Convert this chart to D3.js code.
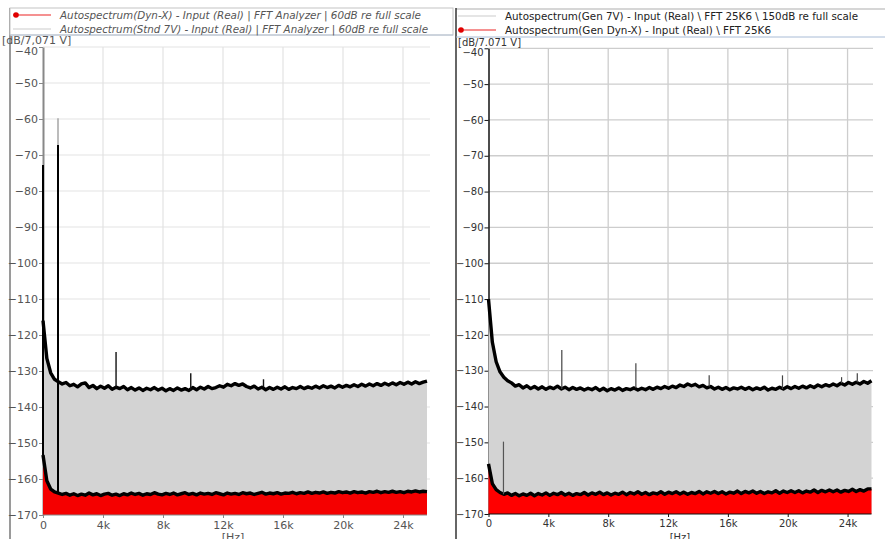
<!DOCTYPE html>
<html>
<head>
<meta charset="utf-8">
<script src="https://cdn.jsdelivr.net/npm/d3@7"></script>
<style>
  body { margin: 0; background: #fff; }
  text { font-family: "DejaVu Sans", Verdana, sans-serif; }
</style>
</head>
<body>
<svg width="885" height="539"></svg>
<script>
// frequency grid, one value every 256 Hz from 0 to 25.6 kHz
var binHz = 256;
var freqs = d3.range(101).map(function (i) { return i * binHz; });

var dbTicks = [-40, -50, -60, -70, -80, -90, -100, -110, -120, -130, -140, -150, -160, -170];
var hzTicks = [0, 4000, 8000, 12000, 16000, 20000, 24000];
var hzLabels = ['0', '4k', '8k', '12k', '16k', '20k', '24k'];

// left panel: Stnd 7V (grey) and Dyn-X (red)
var stnd7v = [
  -116, -126.5, -130.5, -132.3, -133.0, -133.6, -133.2, -134.1, -133.7, -134.4,
  -133.6, -133.3, -134.6, -134.0, -134.9, -134.2, -134.8, -134.1, -135.1, -134.5,
  -134.9, -134.3, -135.2, -134.6, -135.3, -134.7, -135.4, -134.8, -135.2, -134.6,
  -135.3, -134.8, -135.5, -134.9, -135.4, -134.7, -135.3, -134.9, -135.4, -134.6,
  -135.2, -134.5, -135.0, -134.3, -134.9, -134.6, -134.1, -134.5, -133.7, -134.1,
  -133.5, -134.0, -133.6, -134.3, -134.7, -134.2, -135.0, -134.5, -135.2, -134.6,
  -135.1, -134.5, -135.0, -134.4, -135.1, -134.6, -134.9, -134.3, -134.9, -134.4,
  -134.8, -134.2, -134.7, -134.1, -134.6, -134.2, -134.7, -134.0, -134.5, -134.0,
  -134.4, -133.8, -134.3, -133.7, -134.2, -133.6, -134.1, -133.5, -134.0, -133.4,
  -133.9, -133.3, -133.8, -133.2, -133.7, -133.1, -133.6, -133.0, -133.5, -133.1,
  -132.8
];
var stnd7vPeaks = [[1000, -59.8], [4870, -124.7], [9850, -130.6], [14700, -132.3]];

var dynX = [
  -153.3, -160.5, -162.8, -163.6, -163.9, -164.3, -164.0, -164.5, -164.1, -164.6,
  -164.2, -164.5, -163.9, -164.4, -164.1, -164.6, -164.2, -164.0, -164.5, -164.2,
  -164.6, -164.1, -164.4, -163.9, -164.3, -164.0, -164.5, -164.1, -164.3, -163.8,
  -164.2, -164.4, -164.0, -164.3, -163.9, -164.4, -164.1, -163.8, -164.3, -164.0,
  -164.4, -163.9, -164.2, -164.0, -164.3, -163.8, -164.1, -164.4, -163.9, -164.2,
  -164.0, -164.3, -163.8, -164.1, -163.9, -164.3, -164.0, -163.7, -164.2, -163.9,
  -164.1, -163.8, -164.2, -163.9, -164.0, -163.7, -164.1, -163.8, -164.0, -163.6,
  -164.0, -163.7, -163.9, -163.6, -164.0, -163.7, -163.9, -163.5, -163.8, -163.6,
  -163.9, -163.5, -163.8, -163.6, -163.9, -163.5, -163.7, -163.4, -163.8, -163.5,
  -163.7, -163.4, -163.7, -163.5, -163.8, -163.4, -163.6, -163.3, -163.6, -163.4,
  -163.5
];
var dynXPeaks = [[0, -72.8], [1000, -67.2]];

// right panel: Gen 7V (grey) and Gen Dyn-X (red)
var gen7v = [
  -110, -122, -127.5, -130.3, -131.8, -132.8, -133.4, -134.3, -133.9, -134.8,
  -134.2, -135.0, -134.4, -135.1, -134.5, -135.2, -134.6, -135.0, -134.3, -135.1,
  -134.6, -135.3, -134.7, -135.2, -134.8, -135.4, -134.9, -135.3, -134.7, -135.5,
  -134.9, -135.6, -135.0, -135.4, -134.8, -135.5, -135.0, -135.3, -134.8, -135.4,
  -134.9, -135.3, -134.7, -135.2, -134.6, -135.0, -134.4, -134.9, -134.3, -134.7,
  -134.0, -134.4, -133.7, -134.2, -133.8, -134.5, -134.1, -134.8, -134.4, -135.1,
  -134.6, -135.2, -134.7, -135.3, -134.8, -135.1, -134.6, -135.2, -134.7, -135.3,
  -134.8, -135.2, -134.6, -135.4, -134.9, -135.2, -134.6, -135.1, -134.5, -135.0,
  -134.4, -134.9, -134.3, -134.8, -134.2, -134.7, -134.0, -134.5, -133.9, -134.3,
  -133.7, -134.2, -133.5, -134.0, -133.3, -133.8, -133.2, -133.7, -133.0, -133.5,
  -132.8
];
var gen7vPeaks = [[4900, -124.2], [9850, -127.9], [14750, -131.3], [19650, -131.3], [23600, -131.8], [24650, -130.7]];

var genDynX = [
  -156, -161.5, -163.2, -164.0, -164.5, -164.1, -164.8, -164.3, -164.9, -164.4,
  -164.8, -164.2, -164.9, -164.3, -164.7, -164.1, -164.8, -164.2, -164.6, -164.0,
  -164.7, -164.2, -164.8, -164.3, -164.6, -164.0, -164.7, -164.1, -164.5, -163.9,
  -164.6, -164.1, -164.7, -164.2, -164.5, -163.9, -164.6, -164.0, -164.4, -163.8,
  -164.5, -164.0, -164.6, -164.1, -164.4, -163.8, -164.5, -163.9, -164.3, -163.8,
  -164.4, -163.9, -164.5, -164.0, -164.3, -163.7, -164.4, -163.8, -164.2, -163.7,
  -164.3, -163.8, -164.4, -163.9, -164.2, -163.6, -164.3, -163.7, -164.1, -163.6,
  -164.2, -163.7, -164.3, -163.8, -164.1, -163.5, -164.2, -163.6, -164.0, -163.5,
  -164.0, -163.5, -164.1, -163.6, -163.9, -163.3, -164.0, -163.4, -163.8, -163.3,
  -163.8, -163.3, -163.9, -163.4, -163.7, -163.1, -163.7, -163.2, -163.6, -163.0,
  -163.0
];
var genDynXPeaks = [[1000, -149.8]];

var svg = d3.select('svg');

// panel frames and legends
// left panel
svg.append('line').attr('x1', 10).attr('x2', 10).attr('y1', 8).attr('y2', 539)
  .attr('stroke', '#9a9a9a').attr('stroke-width', 2);
svg.append('rect').attr('x', 10).attr('y', 8).attr('width', 443).attr('height', 27)
  .attr('fill', '#fff').attr('stroke', '#c4c4c4').attr('stroke-width', 1);
svg.append('line').attr('x1', 10).attr('x2', 453).attr('y1', 35).attr('y2', 35)
  .attr('stroke', '#b8c6d8');

// right panel
svg.append('line').attr('x1', 456).attr('x2', 885).attr('y1', 9).attr('y2', 9)
  .attr('stroke', '#c8c8c8').attr('stroke-width', 1.5);
svg.append('line').attr('x1', 456).attr('x2', 456).attr('y1', 8).attr('y2', 539)
  .attr('stroke', '#333').attr('stroke-width', 1.5);
svg.append('line').attr('x1', 456).attr('x2', 885).attr('y1', 37).attr('y2', 37)
  .attr('stroke', '#a9bcd6');

function legendRow(x, y, label, width, red, italic, color) {
  svg.append('line').attr('x1', x).attr('x2', x + 38).attr('y1', y).attr('y2', y)
    .attr('stroke', red ? '#f26d6d' : '#dcdcdc').attr('stroke-width', 1.5);
  if (red) {
    svg.append('circle').attr('cx', x + 3).attr('cy', y).attr('r', 2.8).attr('fill', '#e00000');
  }
  svg.append('text').attr('x', x + 47).attr('y', y + 4)
    .attr('font-size', 11)
    .attr('font-style', italic ? 'italic' : 'normal')
    .attr('fill', color)
    .attr('textLength', width).attr('lengthAdjust', 'spacingAndGlyphs')
    .text(label);
}

legendRow(13, 15, 'Autospectrum(Dyn-X) - Input (Real) | FFT Analyzer | 60dB re full scale', 361, true, true, '#555');
legendRow(13, 29, 'Autospectrum(Stnd 7V) - Input (Real) | FFT Analyzer | 60dB re full scale', 368, false, true, '#555');
legendRow(458, 16, 'Autospectrum(Gen 7V) - Input (Real) \\ FFT 25K6 \\ 150dB re full scale', 353, false, false, '#222');
legendRow(458, 30, 'Autospectrum(Gen Dyn-X) - Input (Real) \\ FFT 25K6', 266, true, false, '#222');

function drawPanel(p) {
  var x = d3.scaleLinear().domain([0, 25600]).range([p.left, p.right]);
  var y = d3.scaleLinear().domain([-170, -40]).range([p.bottom, p.top]);
  var g = svg.append('g');

  // grid
  g.selectAll('line.hg').data(dbTicks.slice(0, -1)).enter().append('line')
    .attr('x1', x(0)).attr('x2', p.gridRight)
    .attr('y1', function (d) { return y(d); }).attr('y2', function (d) { return y(d); })
    .attr('stroke', p.gridColor).attr('stroke-width', p.gridWidth);
  g.selectAll('line.vg').data(hzTicks.slice(1)).enter().append('line')
    .attr('x1', function (d) { return x(d); }).attr('x2', function (d) { return x(d); })
    .attr('y1', y(-40)).attr('y2', y(-170))
    .attr('stroke', p.gridColor).attr('stroke-width', p.gridWidth);

  // y axis goes under the traces so the DC spike shows on top of it
  var ya = g.append('g').attr('transform', 'translate(' + x(0) + ',0)')
    .call(d3.axisLeft(y).tickValues(dbTicks).tickSize(4).tickSizeOuter(0).tickPadding(1));
  ya.select('.domain').attr('stroke', p.axisColor).attr('stroke-width', p.axisWidth);
  ya.selectAll('.tick line').attr('stroke', p.axisColor);
  ya.selectAll('text').attr('font-size', p.fontSize).attr('fill', p.textColor)
    .attr('font-family', '"DejaVu Sans", Verdana, sans-serif');
  ya.selectAll('.tick').filter(function (d) { return d === -40; })
    .select('text').attr('dy', '0.72em');

  var area = d3.area()
    .x(function (d) { return x(d[0]); })
    .y0(y(-170))
    .y1(function (d) { return y(d[1]); });
  var line = d3.line()
    .x(function (d) { return x(d[0]); })
    .y(function (d) { return y(d[1]); });

  p.series.forEach(function (s) {
    var pts = freqs.map(function (f, i) { return [f, s.values[i]]; });
    g.append('path').datum(pts).attr('d', area).attr('fill', s.fill);
    g.append('path').datum(pts).attr('d', line)
      .attr('fill', 'none').attr('stroke', '#000')
      .attr('stroke-width', 3.4).attr('stroke-linejoin', 'round');
    // narrow peaks (tones) standing on the noise floor
    g.selectAll(null).data(s.peaks).enter().append('line')
      .attr('x1', function (d) { return x(d[0]); })
      .attr('x2', function (d) { return x(d[0]); })
      .attr('y1', function (d) {
        var i = Math.round(d[0] / binHz);
        return y(s.values[i]);
      })
      .attr('y2', function (d) { return y(d[1]); })
      .attr('stroke', function (d) { return s.peakColor(d); })
      .attr('stroke-width', s.peakWidth);
  });

  var xa = g.append('g').attr('transform', 'translate(0,' + y(-170) + ')')
    .call(d3.axisBottom(x).tickValues(hzTicks).tickSize(3).tickSizeOuter(0).tickPadding(3)
      .tickFormat(function (d, i) { return hzLabels[i]; }));
  xa.select('.domain').attr('stroke', p.axisColor).attr('stroke-width', 1)
    .attr('d', 'M' + x(0) + ',0H' + x(25600));
  xa.selectAll('.tick line').attr('stroke', p.axisColor);
  xa.selectAll('text').attr('font-size', p.fontSize).attr('fill', p.textColor)
    .attr('font-family', '"DejaVu Sans", Verdana, sans-serif');

  g.append('text').attr('x', p.unitX).attr('y', p.unitY).attr('font-size', p.fontSize)
    .attr('fill', p.textColor).text(p.unit);
  g.append('text').attr('x', p.hzX).attr('y', 541).attr('text-anchor', 'middle')
    .attr('font-size', p.fontSize).attr('fill', p.textColor).text('[Hz]');
}

drawPanel({
  left: 43, right: 427, top: 47, bottom: 515, gridRight: 430,
  gridColor: '#e3e3e3', gridWidth: 1.2, axisColor: '#888', axisWidth: 2,
  fontSize: 11, textColor: '#555', unit: '[dB/7,071 V]', unitX: 2, unitY: 44, hzX: 233,
  series: [
    { values: stnd7v, peaks: stnd7vPeaks, fill: '#d3d3d3', peakWidth: 1.4,
      peakColor: function (d) { return d[1] > -100 ? '#a0a0a0' : '#111'; } },
    { values: dynX, peaks: dynXPeaks, fill: '#f50000', peakWidth: 2,
      peakColor: function () { return '#000'; } }
  ]
});

drawPanel({
  left: 488.5, right: 871.5, top: 48.3, bottom: 514, gridRight: 873,
  gridColor: '#cdcdcd', gridWidth: 1.3, axisColor: '#111', axisWidth: 1.5,
  fontSize: 10, textColor: '#333', unit: '[dB/7.071 V]', unitX: 458, unitY: 46, hzX: 680,
  series: [
    { values: gen7v, peaks: gen7vPeaks, fill: '#d3d3d3', peakWidth: 1.2,
      peakColor: function () { return '#444'; } },
    { values: genDynX, peaks: genDynXPeaks, fill: '#ff0000', peakWidth: 1.2,
      peakColor: function () { return '#555'; } }
  ]
});
</script>
</body>
</html>
